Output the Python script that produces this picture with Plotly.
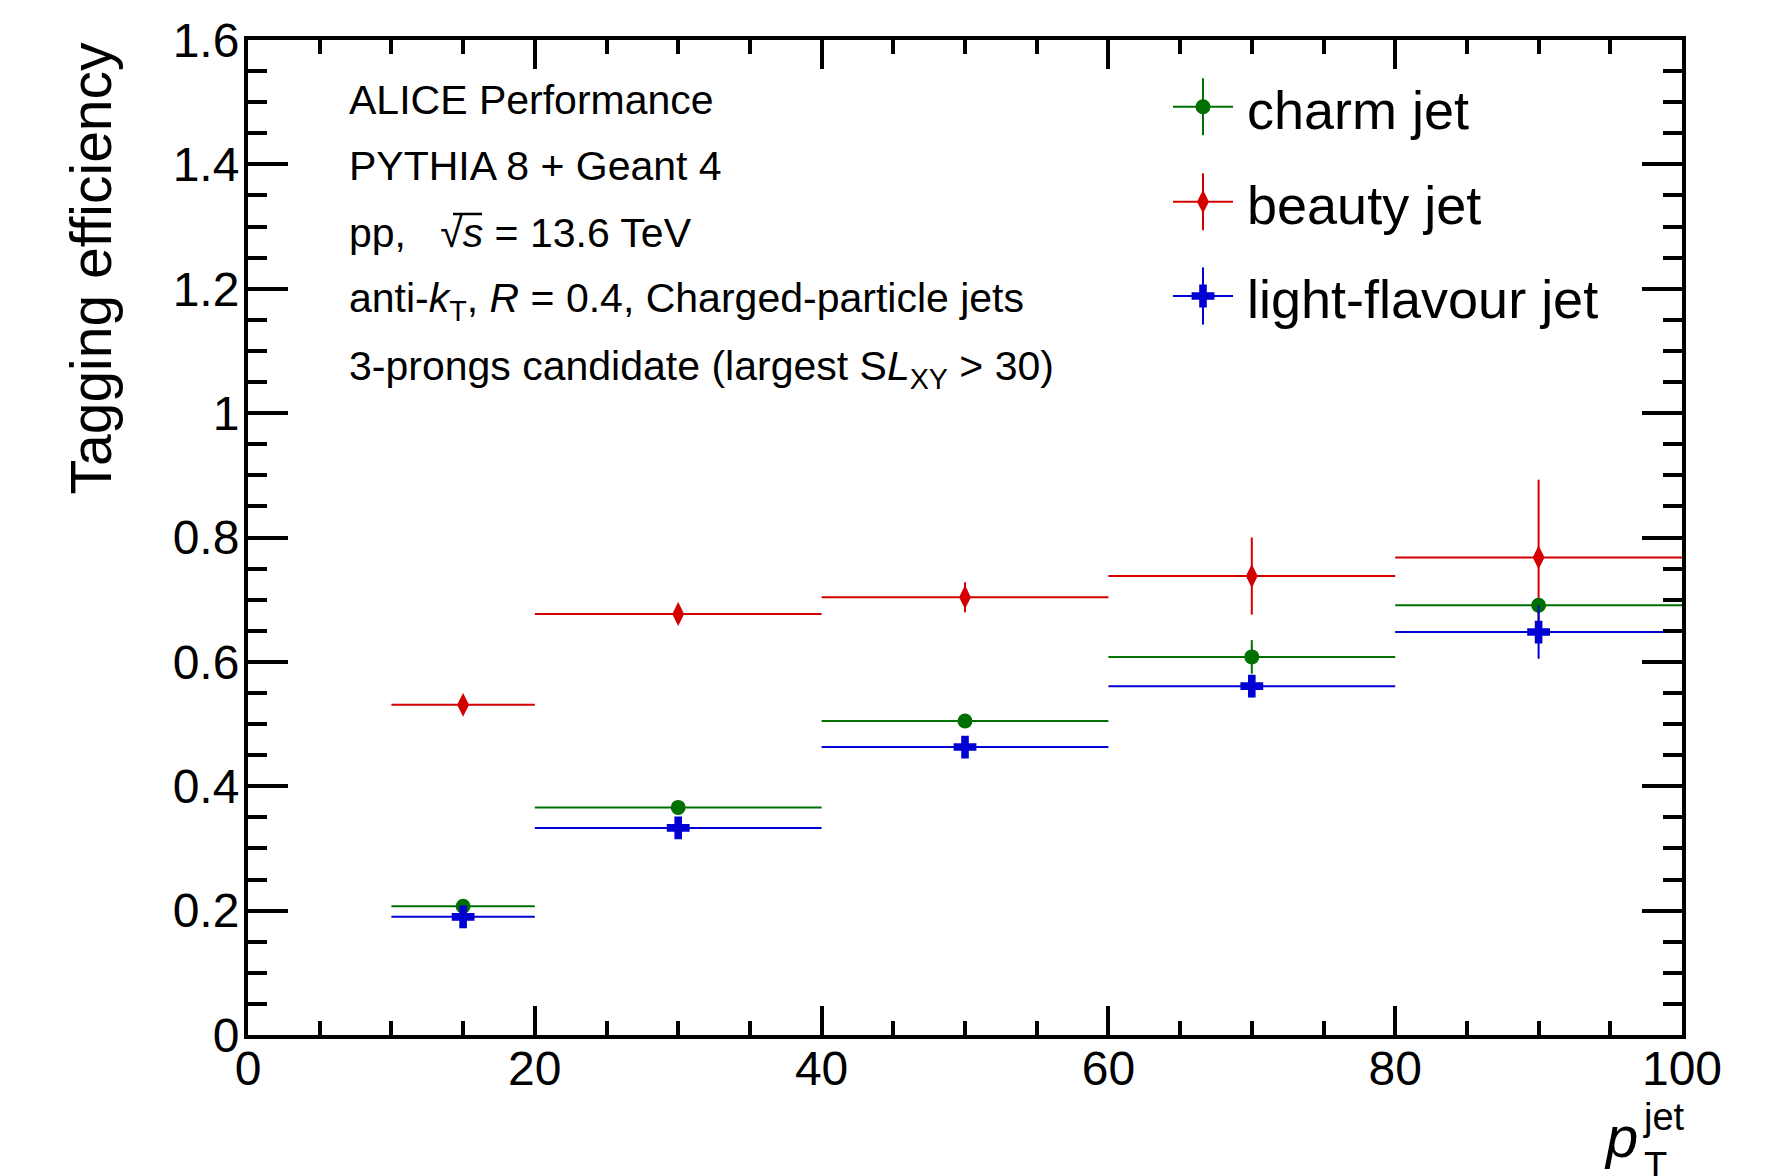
import plotly.graph_objects as go

# ---------------- data ----------------
bin_centers = [15, 30, 50, 70, 90]
bin_half_widths = [5, 10, 10, 10, 10]

beauty_eff = [0.531, 0.677, 0.704, 0.738, 0.768]
beauty_err = [0.006, 0.007, 0.024, 0.062, 0.125]

charm_eff = [0.207, 0.366, 0.505, 0.608, 0.691]
charm_err = [0.005, 0.006, 0.009, 0.027, 0.012]

light_eff = [0.190, 0.333, 0.463, 0.561, 0.648]
light_err = [0.005, 0.007, 0.009, 0.018, 0.043]

series_names = ["charm jet", "beauty jet", "light-flavour jet"]

x_ticks = [0, 20, 40, 60, 80, 100]
y_ticks = [0, 0.2, 0.4, 0.6, 0.8, 1.0, 1.2, 1.4, 1.6]
y_tick_text = ["0", "0.2", "0.4", "0.6", "0.8", "1", "1.2", "1.4", "1.6"]

info_lines = [
    "ALICE Performance",
    "PYTHIA 8 + Geant 4",
    "pp,   √<i>s</i> = 13.6 TeV",
    "anti-<i>k</i><sub>T</sub>, <i>R</i> = 0.4, Charged-particle jets",
    "3-prongs candidate (largest S<i>L</i><sub>XY</sub> &gt; 30)",
]

# ---------------- style ----------------
GREEN = "#007000"
RED = "#d40000"
BLUE = "#0000d2"
FONT = "Liberation Sans, Arial, Helvetica, sans-serif"

W, H = 1775, 1176
L, R, T, B = 248, 93, 40, 141
PW, PH = W - L - R, H - T - B


def px_x(p):
    return (p - L) / PW


def px_y(p):
    return (H - B - p) / PH


fig = go.Figure()

styles = {
    "beauty jet": dict(color=RED, symbol="diamond-tall", size=17),
    "charm jet": dict(color=GREEN, symbol="circle", size=15),
    "light-flavour jet": dict(color=BLUE, symbol="cross", size=19),
}
data = {
    "beauty jet": (beauty_eff, beauty_err),
    "charm jet": (charm_eff, charm_err),
    "light-flavour jet": (light_eff, light_err),
}

for name in ["beauty jet", "charm jet", "light-flavour jet"]:
    vals, errs = data[name]
    st = styles[name]
    fig.add_trace(go.Scatter(
        x=bin_centers, y=vals, mode="markers", name=name, showlegend=False,
        marker=dict(color=st["color"], symbol=st["symbol"], size=st["size"], line=dict(width=0)),
        error_y=dict(type="data", array=errs, visible=True, color=st["color"], thickness=2, width=0),
        error_x=dict(type="data", array=bin_half_widths, visible=True, color=st["color"], thickness=2, width=0),
    ))

# legend (drawn on an overlay axis in plot-fraction units)
leg_y_px = [106.7, 201.7, 296.0]
leg_x_px = 1203
for name, ypx in zip(series_names, leg_y_px):
    st = styles[name]
    fig.add_trace(go.Scatter(
        x=[px_x(leg_x_px)], y=[px_y(ypx)], mode="markers", showlegend=False,
        xaxis="x2", yaxis="y2",
        marker=dict(color=st["color"], symbol=st["symbol"], size=st["size"], line=dict(width=0)),
        error_y=dict(type="constant", value=28.5 / PH, visible=True, color=st["color"], thickness=2, width=0),
        error_x=dict(type="constant", value=30 / PW, visible=True, color=st["color"], thickness=2, width=0),
    ))
    fig.add_annotation(
        x=px_x(1245), y=px_y(ypx + 3), xref="paper", yref="paper",
        text=name, showarrow=False, xanchor="left", yanchor="middle",
        font=dict(family=FONT, size=54, color="black"),
    )

# info text
info_y_px = [99.6, 166.4, 233.0, 301.0, 369.0]
for txt, ypx in zip(info_lines, info_y_px):
    fig.add_annotation(
        x=px_x(347), y=px_y(ypx), xref="paper", yref="paper",
        text=txt, showarrow=False, xanchor="left", yanchor="middle",
        font=dict(family=FONT, size=41, color="black"),
    )

# overline of the square root
fig.add_shape(
    type="line", xref="paper", yref="paper",
    x0=px_x(453), x1=px_x(482), y0=px_y(214), y1=px_y(214),
    line=dict(color="black", width=2.5),
)

# axis titles
fig.add_annotation(
    x=px_x(90), y=1.0, xref="paper", yref="paper", text="Tagging efficiency",
    textangle=-90, showarrow=False, xanchor="center", yanchor="top",
    font=dict(family=FONT, size=57, color="black"),
)
fig.add_annotation(
    x=px_x(1640), y=px_y(1136), xref="paper", yref="paper", text="<i>p</i>",
    showarrow=False, xanchor="right", yanchor="middle",
    font=dict(family=FONT, size=58, color="black"),
)
fig.add_annotation(
    x=px_x(1641), y=px_y(1117), xref="paper", yref="paper", text="jet",
    showarrow=False, xanchor="left", yanchor="middle",
    font=dict(family=FONT, size=38, color="black"),
)
fig.add_annotation(
    x=px_x(1642), y=px_y(1166), xref="paper", yref="paper", text="T",
    showarrow=False, xanchor="left", yanchor="middle",
    font=dict(family=FONT, size=38, color="black"),
)

axis_common = dict(
    showgrid=False, zeroline=False, showline=True, linecolor="black", linewidth=4,
    mirror="allticks", ticks="inside", tickcolor="black", tickwidth=3.5,
    tickfont=dict(family=FONT, size=48, color="black"),
)

fig.update_layout(
    width=W, height=H,
    margin=dict(l=L, r=R, t=T, b=B),
    paper_bgcolor="white", plot_bgcolor="white",
    showlegend=False,
    xaxis=dict(
        range=[0, 100], tickmode="array", tickvals=x_ticks, ticklen=29,
        ticklabelstandoff=-12,
        minor=dict(ticks="inside", dtick=5, ticklen=14, tickwidth=3.5, tickcolor="black"),
        **axis_common,
    ),
    yaxis=dict(
        range=[0, 1.6], tickmode="array", tickvals=y_ticks, ticktext=y_tick_text, ticklen=40,
        ticklabelstandoff=-5,
        minor=dict(ticks="inside", dtick=0.05, ticklen=19, tickwidth=3.5, tickcolor="black"),
        **axis_common,
    ),
    xaxis2=dict(range=[0, 1], overlaying="x", visible=False, fixedrange=True),
    yaxis2=dict(range=[0, 1], overlaying="y", visible=False, fixedrange=True),
)

fig.write_html("out.html")
